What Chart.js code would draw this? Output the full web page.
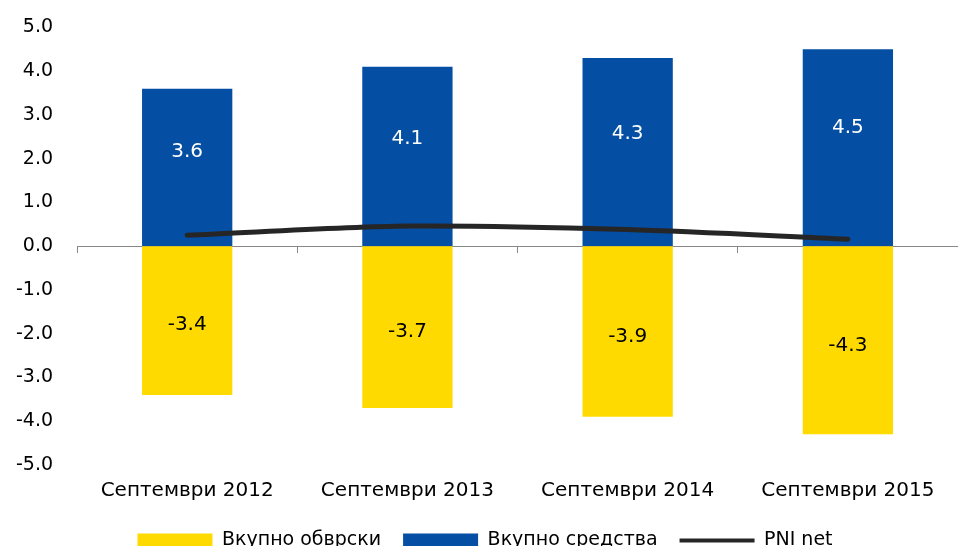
<!DOCTYPE html>
<html>
<head>
<meta charset="utf-8">
<script src="https://cdn.jsdelivr.net/npm/chart.js@4"></script>
<style>
  html, body { margin: 0; padding: 0; background: #fff; }
  #wrap { width: 958px; height: 546px; }
</style>
</head>
<body>
<div id="wrap"><canvas id="chart"></canvas></div>
<script>
// data
var categories = ["Септември 2012", "Септември 2013", "Септември 2014", "Септември 2015"];
var liabilities = [-3.4, -3.7, -3.9, -4.3];   // Вкупно обврски
var assets = [3.6, 4.1, 4.3, 4.5];            // Вкупно средства
var pniNet = [0.25, 0.46, 0.38, 0.16];        // PNI net
var yTicks = [5, 4, 3, 2, 1, 0, -1, -2, -3, -4, -5];

var FONT = "DejaVu Sans";

// write the value inside each bar (a bit off-centre, like the original)
var barLabels = {
	id: 'barLabels',
	afterDatasetsDraw: function(chart) {
		var ctx = chart.ctx;
		ctx.save();
		ctx.font = "20px " + FONT;
		ctx.textAlign = 'center';
		ctx.textBaseline = 'middle';
		[0, 1].forEach(function(di) {
			var meta = chart.getDatasetMeta(di);
			var ds = chart.data.datasets[di];
			meta.data.forEach(function(bar, i) {
				var v = ds.data[i];
				var f = di == 1 ? 0.4 : 0.47;
				ctx.fillStyle = di == 1 ? '#ffffff' : '#000000';
				ctx.fillText(v.toFixed(1), bar.x, bar.y + (bar.base - bar.y) * f);
			});
		});
		ctx.restore();
	}
};

var myChart = new Chart(document.getElementById('chart'), {
	type: 'bar',
	data: {
		labels: categories,
		datasets: [
			{
				label: "Вкупно обврски",
				data: liabilities,
				backgroundColor: "#FFDA00",
				barPercentage: 0.82,
				categoryPercentage: 0.5,
				order: 2
			},
			{
				label: "Вкупно средства",
				data: assets,
				backgroundColor: "#044EA3",
				barPercentage: 0.82,
				categoryPercentage: 0.5,
				order: 2
			},
			{
				type: 'line',
				label: "PNI net",
				data: pniNet,
				borderColor: "#262626",
				backgroundColor: "#262626",
				borderWidth: 5,
				pointRadius: 0,
				tension: 0.3,
				borderCapStyle: 'round',
				fill: false,
				order: 1
			}
		]
	},
	options: {
		responsive: true,
		maintainAspectRatio: false,
		animation: false,
		layout: { padding: { left: 0, right: -12, top: 17, bottom: -14 } },
		plugins: {
			tooltip: { enabled: false },
			legend: {
				position: 'bottom',
				labels: {
					font: { family: FONT, size: 19 },
					color: '#000',
					usePointStyle: true,
					pointStyleWidth: 75,
					boxHeight: 14,
					padding: 22,
					generateLabels: function(chart) {
						return chart.data.datasets.map(function(ds, i) {
							var isLine = ds.type === 'line';
							return {
								text: ds.label,
								fillStyle: ds.backgroundColor,
								strokeStyle: isLine ? ds.borderColor : ds.backgroundColor,
								lineWidth: isLine ? 4 : 0,
								pointStyle: isLine ? 'line' : 'rect',
								datasetIndex: i,
								fontColor: '#000'
							};
						});
					}
				}
			}
		},
		scales: {
			x: {
				stacked: true,
				grid: { display: false },
				border: { display: false },
				ticks: { font: { family: FONT, size: 20 }, color: '#000', padding: 6, maxRotation: 0 }
			},
			x0: {
				type: 'category',
				labels: categories,
				position: { y: 0 },
				offset: true,
				grid: { drawOnChartArea: false, drawTicks: true, tickLength: 6, color: '#888', offset: true },
				border: { display: true, color: '#888', width: 1 },
				ticks: { display: false }
			},
			y: {
				stacked: true,
				min: -5,
				max: 5,
				afterBuildTicks: function(axis) {
					axis.ticks = yTicks.map(function(v) { return { value: v }; });
				},
				grid: { display: false },
				border: { display: false },
				ticks: {
					font: { family: FONT, size: 19 },
					color: '#000',
					padding: 16,
					callback: function(v) { return v.toFixed(1); }
				}
			}
		}
	},
	plugins: [barLabels]
});
</script>
</body>
</html>
